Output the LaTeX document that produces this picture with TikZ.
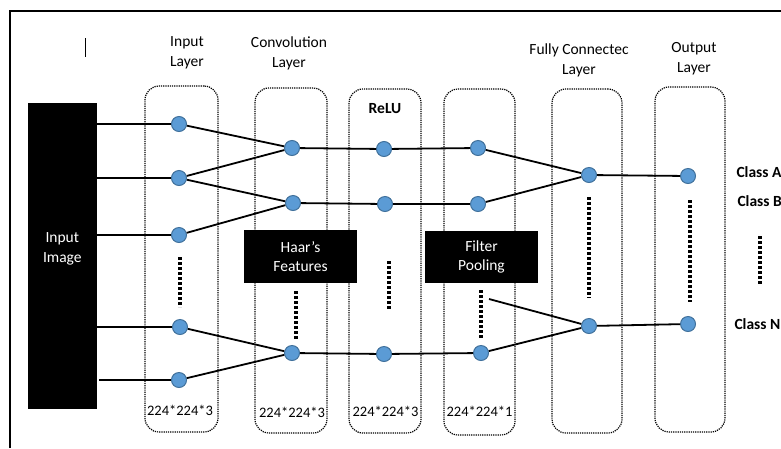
\documentclass[tikz,border=0pt]{standalone}
\usepackage{fontspec}
\setmainfont{Carlito}
\usetikzlibrary{positioning,calc}
\definecolor{neuronfill}{HTML}{5B9BD5}
\definecolor{neurondraw}{HTML}{41719C}
\tikzset{
    neuron/.style = {
        draw=neurondraw,
        fill=neuronfill,
        shape=circle,
        minimum size=15pt,
        inner sep=0pt,
        line width=1pt
    },
    layer/.style = {
        draw,
        shape=rectangle,
        rounded corners=14pt,
        line width=1.2pt,
        dash pattern=on 1.2pt off 1pt
    },
    blackbox/.style = {
        fill=black,
        text=white,
        shape=rectangle,
        align=center,
        inner sep=0pt,
        font=\fontsize{15.5}{19.5}\selectfont
    },
    link/.style = {
        draw,
        line width=1.8pt
    },
    dots/.style = {
        draw,
        line width=4pt,
        dash pattern=on 3pt off 2pt
    },
    heading/.style = {
        align=center,
        font=\fontsize{15.5}{19.5}\selectfont
    },
    dims/.style = {
        font=\fontsize{14.5}{17}\selectfont
    },
    classlabel/.style = {
        anchor=west,
        font=\fontsize{15.5}{18}\selectfont\bfseries
    },
}

\begin{document}
\begin{tikzpicture}[x=1pt, y=-1pt]
            \useasboundingbox (0,0) rectangle (781,448);
            \path[draw, line width=2.5pt] (10,448) |- (781,11);
            \path[draw, line width=1pt] (85,38) -- (85,57);

            % layer columns
            \node[layer, minimum width=73pt, minimum height=346pt] (inbox) at (181.5,259) {};
            \node[layer, minimum width=72pt, minimum height=345pt] (convbox) at (291,260.5) {};
            \node[layer, minimum width=72pt, minimum height=344pt] (relubox) at (385,261) {};
            \node[layer, minimum width=71pt, minimum height=346pt] (poolbox) at (479.5,262) {};
            \node[layer, minimum width=70pt, minimum height=344pt] (fcbox) at (587,261) {};
            \node[layer, minimum width=70pt, minimum height=345pt] (outbox) at (690,259.5) {};

            \node[heading] (inhead) at (187,53) {Input\\Layer};
            \node[heading] (convhead) at (289,53.5) {Convolution\\Layer};
            \node[heading] (fchead) at (579,60.5) {Fully Connectec\\Layer};
            \node[heading] (outhead) at (694,58.5) {Output\\Layer};
            \node[heading, font=\fontsize{15.5}{19.5}\selectfont\bfseries] (reluhead) at (385,109) {ReLU};

            \node[blackbox, minimum width=69.5pt, minimum height=306pt] (img) at (62.3,256) {};
            \node[blackbox] (imgtext) at (62.3,249) {Input\\Image};
            \node[blackbox, minimum width=113pt, minimum height=53pt] (haar) at (300.5,256.5) {Haar’s\\Features};
            \node[blackbox, minimum width=113pt, minimum height=52pt] (filter) at (481.5,257) {Filter\\Pooling};

            % neurons
            \node[neuron] (in1) at (179,124) {};
            \node[neuron] (in2) at (179,178) {};
            \node[neuron] (in3) at (179,235) {};
            \node[neuron] (in4) at (180,327) {};
            \node[neuron] (in5) at (179,380) {};
            \node[neuron] (conv1) at (292,148) {};
            \node[neuron] (conv2) at (293,203) {};
            \node[neuron] (conv3) at (292,353) {};
            \node[neuron] (relu1) at (384,149) {};
            \node[neuron] (relu2) at (385,204) {};
            \node[neuron] (relu3) at (384,354) {};
            \node[neuron] (pool1) at (478,148) {};
            \node[neuron] (pool2) at (478,204) {};
            \node[neuron] (pool3) at (481,353) {};
            \node[neuron] (fc1) at (589,175) {};
            \node[neuron] (fc2) at (589,326) {};
            \node[neuron] (outA) at (688,176) {};
            \node[neuron] (outN) at (688,324) {};
            \coordinate (pooltail) at (489,299);

            \path[link] (img.east |- in1) -- (in1);
            \path[link] (img.east |- in2) -- (in2);
            \path[link] (img.east |- in3) -- (in3);
            \path[link] (img.east |- in4) -- (in4);
            \path[link] ([xshift=2pt]img.east |- in5) -- (in5);

            \path[link] (in1) -- (conv1);
            \path[link] (in2) -- (conv1);
            \path[link] (in2) -- (conv2);
            \path[link] (in3) -- (conv2);
            \path[link] (in4) -- (conv3);
            \path[link] (in5) -- (conv3);
            \foreach \i in {1,2,3} {
                \path[link] (conv\i) -- (relu\i);
                \path[link] (relu\i) -- (pool\i);
            }
            \path[link] (pool1) -- (fc1);
            \path[link] (pool2) -- (fc1);
            \path[link] (pool3) -- (fc2);
            \path[link] (pooltail) -- (fc2);
            \path[link] (fc1) -- (outA);
            \path[link] (fc2) -- (outN);

            % ellipsis marks
            \path[dots] (179.5,257) -- (179.5,307);
            \path[dots] (295.5,291) -- (295.5,340);
            \path[dots] (389,261) -- (389,310);
            \path[dots] (481,290) -- (481,339);
            \path[dots] (589,197) -- (589,298);
            \path[dots] (690,200) -- (690,302);
            \path[dots] (760,236) -- (760,285);

            \node[dims] (indim) at (180,410) {224*224*3};
            \node[dims] (convdim) at (292,412) {224*224*3};
            \node[dims] (reludim) at (385.5,411) {224*224*3};
            \node[dims] (pooldim) at (479.5,411) {224*224*1};

            \node[classlabel] (classA) at (733,172) {Class A};
            \node[classlabel] (classB) at (734,201) {Class B};
            \node[classlabel] (classN) at (731,324) {Class N};

        \end{tikzpicture}
\end{document}
